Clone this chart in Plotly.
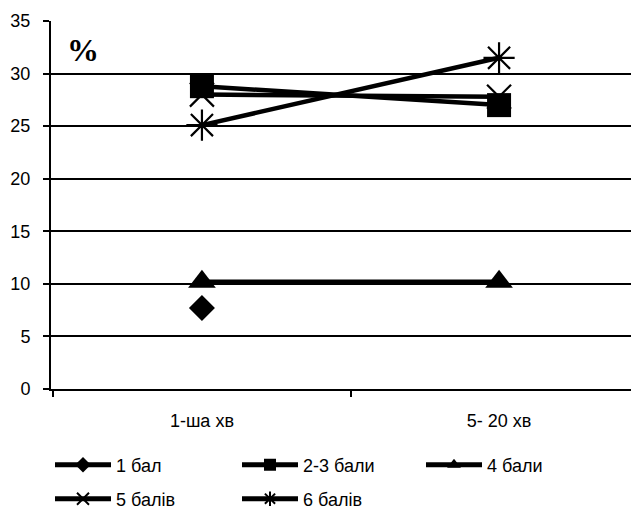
import plotly.graph_objects as go

categories = ["1-ша хв", "5- 20 хв"]
bal1 = [7.7, None]
bal23 = [28.8, 27.0]
bal4 = [10.2, 10.2]
bal5 = [28.0, 27.8]
bal6 = [25.1, 31.5]
names = ["1 бал", "2-3 бали", "4 бали", "5 балів", "6 балів"]

# page has an 8px body margin; the figure is drawn offset by it
OFF = 8
W, H = 639 - OFF, 509 - OFF
fig = go.Figure()

series = [
    (bal1, "diamond", 20, 0, "legend", (50, 465)),
    (bal23, "square", 24, 0, "legend2", (237, 465)),
    (bal4, "triangle-up", 24, 0, "legend3", (421, 465)),
    (bal5, "x-thin-open", 24, 2.2, "legend4", (50, 499)),
    (bal6, "asterisk-open", 26, 2.2, "legend5", (237, 499)),
]
for (vals, sym, sz, lw, leg, pos), name in zip(series, names):
    fig.add_trace(go.Scatter(
        x=categories, y=vals, name=name, mode="lines+markers",
        line=dict(color="black", width=4.5),
        marker=dict(symbol=sym, size=sz, color="black",
                    line=dict(color="black", width=lw)),
        legend=leg, connectgaps=False,
    ))

leg_common = dict(orientation="v", bgcolor="rgba(0,0,0,0)",
                  font=dict(family="Liberation Sans, Arial", size=18, color="black"),
                  xref="container", yref="container", xanchor="left", yanchor="middle",
                  itemsizing="constant", itemwidth=56)
layout_legs = {}
for (vals, sym, sz, lw, leg, pos) in series:
    d = dict(leg_common)
    d["x"] = (pos[0] - OFF) / W
    d["y"] = 1 - (pos[1] - OFF) / H
    layout_legs[leg] = d

L, T, B = 51 - OFF, 21 - OFF, 389 - OFF
fig.update_layout(
    width=W, height=H,
    margin=dict(l=L, r=0, t=T, b=H - B, autoexpand=False),
    paper_bgcolor="white", plot_bgcolor="white",
    showlegend=True,
    font=dict(family="Liberation Sans, Arial", size=18, color="black"),
    xaxis=dict(type="category", range=[-0.508, 1.471], showgrid=False,
               showline=True, linecolor="black", linewidth=2, automargin=False,
               ticks="outside", tickson="boundaries", ticklen=6, tickwidth=2,
               tickcolor="black", tickfont=dict(size=18), tickangle=0,
               ticklabelstandoff=14),
    yaxis=dict(range=[0, 35], dtick=5, showgrid=True, gridcolor="black", gridwidth=1.5,
               showline=True, linecolor="black", linewidth=2, zeroline=False,
               automargin=False,
               ticks="outside", ticklen=6, tickwidth=1.5, tickcolor="black",
               tickfont=dict(size=18), ticklabelstandoff=9),
    annotations=[dict(text="<b>%</b>", xref="paper", yref="paper",
                      x=(65 - 51) / 588, y=1 - (50 - 21) / 368,
                      xanchor="left", yanchor="middle", showarrow=False,
                      font=dict(family="Liberation Serif, Times New Roman", size=32, color="black"))],
    **layout_legs,
)

fig.write_html("out.html")
